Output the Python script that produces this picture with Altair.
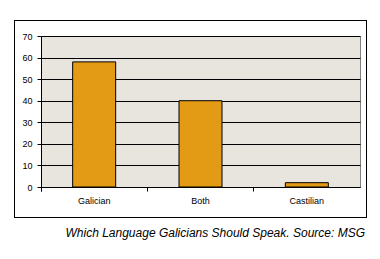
import altair as alt
import pandas as pd

categories = ["Galician", "Both", "Castilian"]
values = [58, 40, 2]
y_ticks = [0, 10, 20, 30, 40, 50, 60, 70]
caption = "Which Language Galicians Should Speak. Source: MSG"

df = pd.DataFrame({"lang": categories, "pct": values})

PL, PT = 41, 36
W, H = 319, 151

bars = alt.Chart(df).mark_bar(size=43, fill="#E39A14", stroke="black", strokeWidth=1).encode(
    x=alt.X("lang:N", sort=categories, title=None,
            scale=alt.Scale(paddingInner=0, paddingOuter=0),
            axis=alt.Axis(labelAngle=0, bandPosition=0, tickExtra=True, tickSize=4,
                          tickColor="black", domainColor="black", labelColor="black",
                          labelFont="Liberation Sans", labelFontSize=9, labelPadding=5,
                          grid=False)),
    y=alt.Y("pct:Q", title=None,
            scale=alt.Scale(domain=[0, 70], nice=False),
            axis=alt.Axis(values=y_ticks, tickSize=4, tickColor="black", domainColor="black",
                          labelColor="black", labelFont="Liberation Sans", labelFontSize=9,
                          labelPadding=5, grid=True, gridColor="black", gridOpacity=1,
                          gridWidth=1)),
)

frame = alt.Chart(df).mark_rect(fill=None, stroke="black", strokeWidth=1, clip=False).encode(
    x=alt.value(14.5 - PL), x2=alt.value(366.5 - PL),
    y=alt.value(20.5 - PT), y2=alt.value(217.5 - PT),
)

cap = alt.Chart(pd.DataFrame({"t": [caption]})).mark_text(
    align="right", baseline="middle", font="Liberation Sans", fontSize=12,
    fontStyle="italic", color="black", clip=False
).encode(
    x=alt.value(365 - PL), y=alt.value(233 - PT), text="t:N"
)

chart = alt.layer(bars, frame, cap).properties(
    width=W, height=H,
    autosize=alt.AutoSizeParams(type="none"),
    padding={"left": PL, "top": PT, "right": 380 - PL - W, "bottom": 259 - PT - H},
    background="white",
).configure_view(fill="#E8E5DE", stroke="#808080", strokeWidth=1)

chart.save("out.html", embed_options={"renderer": "svg", "actions": False})
